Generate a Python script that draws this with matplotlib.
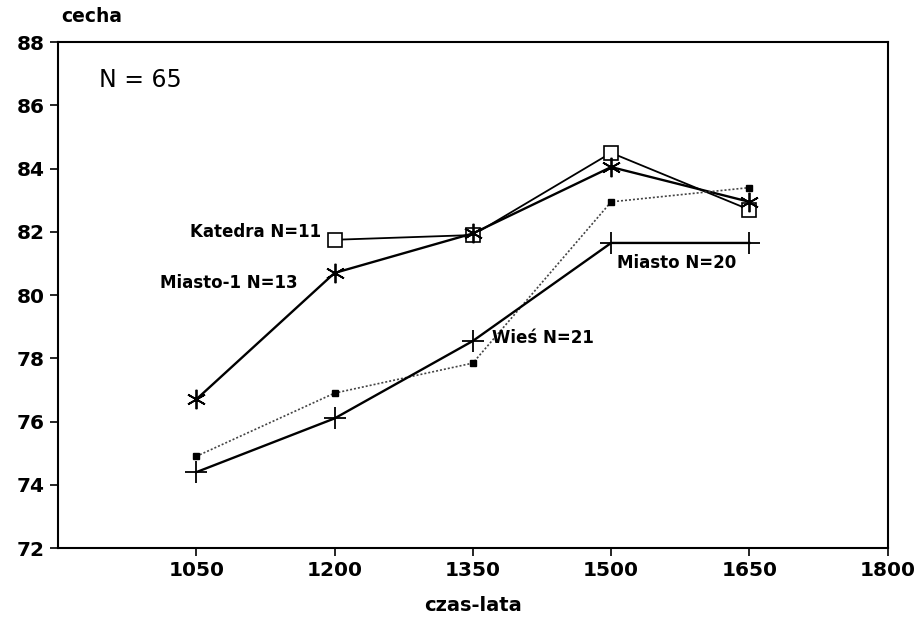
import matplotlib
matplotlib.use("Agg")
import matplotlib.pyplot as plt

plt.rcParams['font.family'] = ['DejaVu Sans']

years = [1050, 1200, 1350, 1500, 1650]
katedra_years = [1200, 1350, 1500, 1650]
katedra = [81.75, 81.9, 84.5, 82.7]
miasto1 = [76.7, 80.7, 81.95, 84.05, 82.95]
wies = [74.9, 76.9, 77.85, 82.95, 83.4]
miasto = [74.4, 76.1, 78.55, 81.65, 81.65]

xticks = [1050, 1200, 1350, 1500, 1650, 1800]
yticks = [72, 74, 76, 78, 80, 82, 84, 86, 88]

fig = plt.figure(figsize=(9.19, 6.2), dpi=100)
ax = fig.add_axes([0.063, 0.116, 0.903, 0.816])

ax.plot(katedra_years, katedra, color='black', lw=1.3, marker='s', ms=10,
        mfc='white', mec='black', mew=1.2)
ax.plot(years, miasto1, color='black', lw=1.7, marker=(6, 2, 0), ms=14,
        mec='black', mew=1.3)
ax.plot(years, wies, color='#444444', lw=1.2, linestyle=(0, (1.2, 1.2)),
        marker='s', ms=4, mfc='black', mec='black')
ax.plot(years, miasto, color='black', lw=1.7, marker='+', ms=16, mew=1.3)

ax.set_xlim(900, 1800)
ax.set_ylim(72, 88)
ax.set_xticks(xticks)
ax.set_yticks(yticks)
ax.tick_params(axis='both', direction='out', length=6, width=1.2,
               labelsize=14.5)
for lab in ax.get_xticklabels() + ax.get_yticklabels():
    lab.set_fontweight('bold')
for s in ax.spines.values():
    s.set_linewidth(1.5)

ax.set_xlabel('czas-lata', fontsize=14, fontweight='bold', labelpad=11)

ax.text(904, 88.8, 'cecha', fontsize=13.5, fontweight='bold', ha='left',
        va='center', clip_on=False)
ax.text(945, 86.8, 'N = 65', fontsize=17, ha='left', va='center')
ax.text(1186, 82.0, 'Katedra N=11', fontsize=12, fontweight='bold',
        ha='right', va='center')
ax.text(1160, 80.37, 'Miasto-1 N=13', fontsize=12, fontweight='bold',
        ha='right', va='center')
ax.text(1371, 78.63, 'Wieś N=21', fontsize=12, fontweight='bold',
        ha='left', va='center')
ax.text(1506, 81.0, 'Miasto N=20', fontsize=12, fontweight='bold',
        ha='left', va='center')

fig.savefig('out.png', dpi=100)
